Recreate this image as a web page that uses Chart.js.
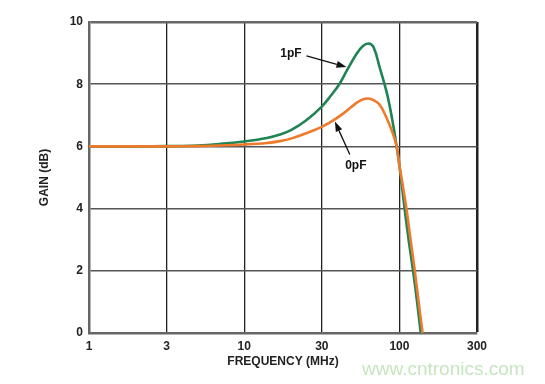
<!DOCTYPE html>
<html>
<head>
<meta charset="utf-8">
<script src="https://cdn.jsdelivr.net/npm/chart.js@4/dist/chart.umd.min.js"></script>
<style>
  html, body { margin: 0; padding: 0; background: #fff; }
  #wrap { width: 545px; height: 384px; position: relative; }
</style>
</head>
<body>
<div id="wrap"><canvas id="gainChart"></canvas></div>
<script>
// frequency (MHz) points
const freq1pF = [1, 2, 3.16, 5, 7, 10, 14, 17, 20, 25, 31.6, 36, 41, 46, 53, 58, 63, 68, 75, 83, 90, 96, 100, 108, 115, 122.5, 130, 137.3, 142];
const gain1pF = [6.0, 6.0, 6.01, 6.03, 6.08, 6.16, 6.27, 6.38, 6.52, 6.83, 7.28, 7.62, 8.0, 8.45, 8.98, 9.22, 9.31, 9.2, 8.5, 7.72, 6.85, 6.0, 5.38, 4.0, 2.95, 2.0, 1.0, 0.0, -0.6];

const freq0pF = [1, 2, 3.16, 5, 7, 10, 14, 17, 20, 25, 31.6, 38.4, 45.6, 52.9, 58, 63, 68, 74.8, 82.6, 91, 96, 100, 111, 118, 125.7, 133, 141, 146];
const gain0pF = [6.0, 6.0, 6.0, 6.01, 6.03, 6.06, 6.11, 6.17, 6.25, 6.42, 6.63, 6.87, 7.14, 7.4, 7.51, 7.54, 7.49, 7.33, 6.92, 6.4, 6.0, 5.4, 4.0, 3.0, 2.0, 1.0, 0.0, -0.6];

// tick positions: half-decade grid, labelled as on the original
const xTickValues = [1, 3.1623, 10, 31.623, 100, 316.23];
const xTickLabels = ['1', '3', '10', '30', '100', '300'];
const yTickValues = [0, 2, 4, 6, 8, 10];

// arrow labels in data units: [text, textF, textDb, tailF, tailDb, tipF, tipDb]
const arrowNotes = [
  ['1pF', 20.0, 8.98, 25.2, 8.91, 45.6, 8.55],
  ['0pF', 52.4, 5.37, 47.9, 5.74, 38.4, 6.8]
];

const toPoints = (xs, ys) => xs.map((x, i) => ({ x: x, y: ys[i] }));

const labelFont = '"Liberation Sans", Arial, sans-serif';

const extrasPlugin = {
  id: 'extras',
  afterDraw(chart) {
    const ctx = chart.ctx;
    const xs = chart.scales.x, ys = chart.scales.y;
    ctx.save();

    // arrows with labels
    arrowNotes.forEach(n => {
      const tx = xs.getPixelForValue(n[1]), ty = ys.getPixelForValue(n[2]);
      const ax = xs.getPixelForValue(n[3]), ay = ys.getPixelForValue(n[4]);
      const bx = xs.getPixelForValue(n[5]), by = ys.getPixelForValue(n[6]);
      ctx.fillStyle = '#111';
      ctx.font = 'bold 12px ' + labelFont;
      ctx.textAlign = 'center';
      ctx.textBaseline = 'middle';
      ctx.fillText(n[0], tx, ty);

      const ang = Math.atan2(by - ay, bx - ax);
      const head = 10;
      const hx = bx - head * Math.cos(ang), hy = by - head * Math.sin(ang);
      ctx.strokeStyle = '#111';
      ctx.lineWidth = 1.3;
      ctx.beginPath();
      ctx.moveTo(ax, ay);
      ctx.lineTo(hx, hy);
      ctx.stroke();
      ctx.beginPath();
      ctx.moveTo(bx, by);
      ctx.lineTo(hx + 3.5 * Math.sin(ang), hy - 3.5 * Math.cos(ang));
      ctx.lineTo(hx - 3.5 * Math.sin(ang), hy + 3.5 * Math.cos(ang));
      ctx.closePath();
      ctx.fill();
    });

    // axis titles
    ctx.fillStyle = '#222';
    ctx.font = 'bold 12px ' + labelFont;
    ctx.textAlign = 'center';
    ctx.textBaseline = 'middle';
    ctx.fillText('FREQUENCY (MHz)', (xs.left + xs.right) / 2, 362);
    ctx.save();
    ctx.translate(45, (ys.top + ys.bottom) / 2);
    ctx.rotate(-Math.PI / 2);
    ctx.fillText('GAIN (dB)', 0, 0);
    ctx.restore();

    // watermark
    ctx.fillStyle = '#c6e6c0';
    ctx.font = '19px ' + labelFont;
    ctx.textAlign = 'left';
    ctx.fillText('www.cntronics.com', 362, 370);
    ctx.restore();
  }
};

const ctx = document.getElementById('gainChart').getContext('2d');

const gainChart = new Chart(ctx, {
  type: 'line',
  data: {
    datasets: [
      {
        label: '0pF',
        data: toPoints(freq0pF, gain0pF),
        borderColor: '#ee7a2c',
        borderWidth: 2.6,
        pointRadius: 0,
        tension: 0.4,
        fill: false
      },
      {
        label: '1pF',
        data: toPoints(freq1pF, gain1pF),
        borderColor: '#1f8453',
        borderWidth: 2.6,
        pointRadius: 0,
        tension: 0.4,
        fill: false
      }
    ]
  },
  options: {
    responsive: true,
    maintainAspectRatio: false,
    animation: false,
    layout: { padding: { left: 0, top: 22, right: 68, bottom: 0 } },
    plugins: {
      legend: { display: false },
      tooltip: { enabled: false }
    },
    scales: {
      x: {
        type: 'logarithmic',
        min: 1,
        max: 316.23,
        afterBuildTicks: (scale) => {
          scale.ticks = xTickValues.map(v => ({ value: v }));
        },
        afterFit: (scale) => { scale.height = 51; },
        ticks: {
          autoSkip: false,
          maxRotation: 0,
          padding: 6,
          color: '#222',
          font: { family: labelFont, size: 12, weight: 'bold' },
          callback: (value, index) => xTickLabels[index]
        },
        grid: {
          drawTicks: false,
          color: '#222',
          lineWidth: (c) => (c.index === xTickValues.length - 1 ? 2.5 : 1.3)
        },
        border: { color: '#666', width: 2.5 }
      },
      y: {
        min: 0,
        max: 10,
        afterBuildTicks: (scale) => {
          scale.ticks = yTickValues.map(v => ({ value: v }));
        },
        afterFit: (scale) => { scale.width = 89; },
        ticks: {
          padding: 6,
          color: '#222',
          font: { family: labelFont, size: 12, weight: 'bold' }
        },
        grid: {
          drawTicks: false,
          color: (c) => (c.index === yTickValues.length - 1 ? '#666' : '#555'),
          lineWidth: (c) => (c.index === yTickValues.length - 1 ? 2.5 : 1.6)
        },
        border: { color: '#666', width: 2.5 }
      }
    }
  },
  plugins: [extrasPlugin]
});
</script>
</body>
</html>
